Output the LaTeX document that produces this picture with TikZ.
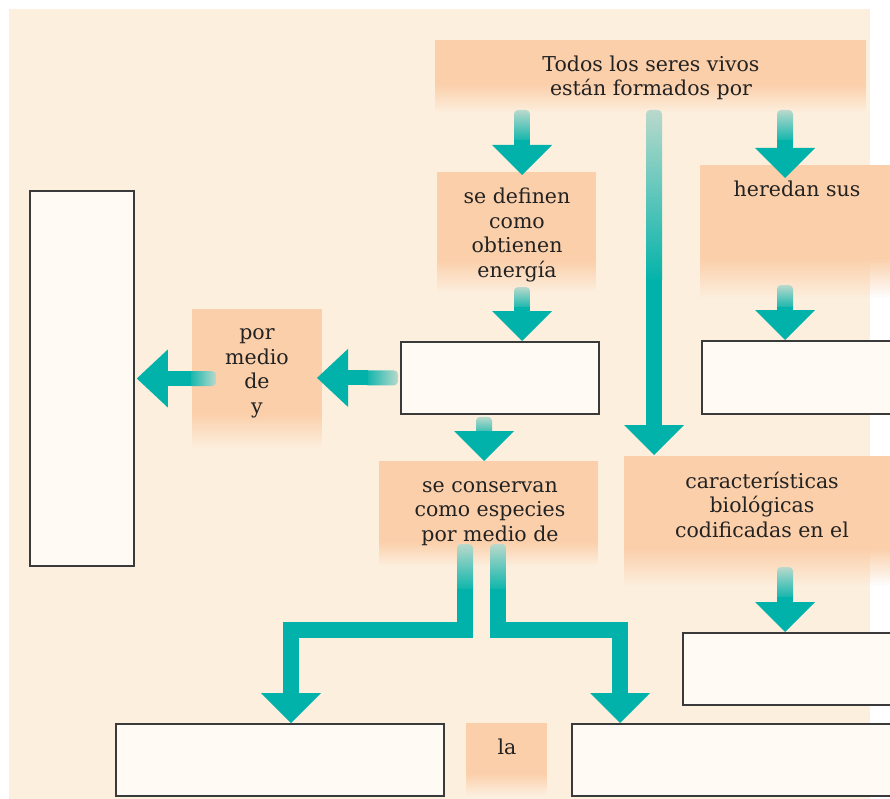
\documentclass[tikz,border=0pt]{standalone}
\usepackage{fontspec}
\setmainfont{DejaVu Serif}
\usetikzlibrary{calc,fadings}
\definecolor{bg}{HTML}{FDEFDE}
\definecolor{peach}{HTML}{FBCFAA}
\definecolor{tealc}{HTML}{00B2A9}
\definecolor{tealL}{HTML}{B9D9CC}
\definecolor{boxfill}{HTML}{FFFAF4}
\definecolor{boxline}{HTML}{3A3A3A}
\definecolor{txtc}{HTML}{222222}
\tikzfading[name=fadedown, top color=transparent!0, bottom color=transparent!100]
\newcommand\peachbox[6]{%
 \begin{scope}
 \clip (#2,#3) -- (#4,#3) -- (#4,#5-12) .. controls (#4,#5) .. (#4-12,#5) -- (#2,#5) -- cycle;
 \fill[peach] (#2,#3) rectangle (#4,#5-#6+0.5);
 \fill[peach, path fading=fadedown] (#2,#5-#6) rectangle (#4,#5);
 \end{scope}
 \pgfmathsetmacro\pbw{#4-#2}\pgfmathsetmacro\pbh{#5-#3}
 \node[inner sep=0pt, outer sep=0pt, minimum width=\pbw pt, minimum height=\pbh pt, anchor=north west] (#1) at (#2,#3) {};
}
\newcommand\vArrow[3]{%
 \shade[top color=tealL, bottom color=tealc, rounded corners=4pt] let \p1=#1 in (\x1-8pt,\y1) rectangle (\x1+8pt,\y1-#3pt-4pt);
 \fill[tealc] let \p1=#1, \p2=#2 in (\x1-8pt,\y1-#3pt) rectangle (\x1+8pt,\y2+29pt);
 \fill[tealc] let \p1=#1, \p2=#2 in (\x1-30pt,\y2+30pt) -- (\x1,\y2) -- (\x1+30pt,\y2+30pt) -- cycle;
}
\newcommand\hArrowL[3]{%
 \shade[left color=tealc, right color=tealL, rounded corners=4pt] let \p1=#1 in (\x1,\y1-7.5pt) rectangle (\x1-#3pt-4pt,\y1+7.5pt);
 \fill[tealc] let \p1=#1, \p2=#2 in (\x1-#3pt,\y1-7.5pt) rectangle (\x2+30pt,\y1+7.5pt);
 \fill[tealc] let \p1=#1, \p2=#2 in (\x2+31pt,\y1+29pt) -- (\x2,\y1) -- (\x2+31pt,\y1-29pt) -- cycle;
}
\newcommand\elbowArrow[5]{%
 \shade[top color=tealL, bottom color=tealc, rounded corners=4pt] let \p1=#1 in (\x1-8pt,\y1) rectangle (\x1+8pt,\y1-#5pt-4pt);
 \draw[tealc, line width=16pt] let \p1=#1, \p4=#4 in (\x1,\y1-#5pt) -- #2 -- #3 -- (\x4,\y4+29pt);
 \fill[tealc] let \p4=#4 in (\x4-30pt,\y4+30pt) -- (\x4,\y4) -- (\x4+30pt,\y4+30pt) -- cycle;
}
\begin{document}
\begin{tikzpicture}[x=1pt,y=-1pt,
  wbox/.style={draw=boxline, fill=boxfill, line width=1.8pt, inner sep=0pt, anchor=north west},
  txt/.style={font=\fontsize{20.5}{24.5}\selectfont, text=txtc, align=center, inner sep=0pt, anchor=base}]
\clip (0,0) rectangle (890,799);
\fill[white] (0,0) rectangle (890,799);
\fill[bg] (9,9) rectangle (870,799);
% peach label boxes
\peachbox{top}{435}{40}{866}{112}{28}
\peachbox{defn}{437}{172}{596}{292}{32}
\peachbox{herd}{700}{165}{893}{298}{40}
\peachbox{pmdy}{192}{309}{322}{448}{35}
\peachbox{cons}{379}{461}{598}{566}{25}
\peachbox{cara}{624}{456}{893}{586}{38}
\peachbox{la}{466}{723}{547}{795}{22}
% white answer boxes
\node[wbox, minimum width=104pt, minimum height=375pt] (wleft) at (29,190) {};
\node[wbox, minimum width=198pt, minimum height=72pt] (wcen) at (400,341) {};
\node[wbox, minimum width=199pt, minimum height=73pt] (wr1) at (701,340) {};
\node[wbox, minimum width=218pt, minimum height=72pt] (wr2) at (682,632) {};
\node[wbox, minimum width=328pt, minimum height=72pt] (wbl) at (115,723) {};
\node[wbox, minimum width=329pt, minimum height=72pt] (wbr) at (571,723) {};
% texts (anchor = baseline of the last line)
\node[txt] (topT) at (651,96) {Todos los seres vivos\\están formados por};
\node[txt] (defnT) at (517,277) {se definen\\como\\obtienen\\energía};
\node[txt] (herdT) at (797,197) {heredan sus};
\node[txt] (pmdyT) at (257,413) {por\\medio\\de\\y};
\node[txt] (consT) at (490,541) {se conservan\\como especies\\por medio de};
\node[txt] (caraT) at (762,537) {características\\biológicas\\codificadas en el};
\node[txt] (laT) at (507,754) {la};
% arrow guide coordinates
\coordinate (c1) at (522,0);
\coordinate (c2) at (654,0);
\coordinate (c3) at (785,0);
\coordinate (c4) at (484,0);
\coordinate (k1) at (465,630);
\coordinate (k2) at (291,630);
\coordinate (k3) at (498,630);
\coordinate (k4) at (620,630);
% arrows
\vArrow{($(top.south -| c1)+(0,-2)$)}{($(defn.north -| c1)+(0,3)$)}{30}
\vArrow{($(top.south -| c2)+(0,-2)$)}{($(cara.north -| c2)+(0,-1)$)}{170}
\vArrow{($(top.south -| c3)+(0,-2)$)}{($(herd.north -| c3)+(0,13)$)}{30}
\vArrow{($(defn.south -| c1)+(0,-5)$)}{(wcen.north -| c1)}{20}
\vArrow{($(wcen.south -| c4)+(0,2)$)}{(cons.north -| c4)}{18}
\vArrow{($(herd.south -| c3)+(0,-13)$)}{(wr1.north -| c3)}{22}
\vArrow{($(cara.south -| c3)+(0,-19)$)}{(wr2.north -| c3)}{30}
\hArrowL{($(wcen.west)+(-2,0)$)}{($(pmdy.east)+(-5,0)$)}{30}
\hArrowL{($(pmdy.west)+(24,0)$)}{($(wleft.east)+(2,0)$)}{25}
\elbowArrow{($(cons.south -| k1)+(0,-22)$)}{(k1)}{(k2)}{(wbl.north -| k2)}{45}
\elbowArrow{($(cons.south -| k3)+(0,-22)$)}{(k3)}{(k4)}{(wbr.north -| k4)}{45}
\end{tikzpicture}
\end{document}
